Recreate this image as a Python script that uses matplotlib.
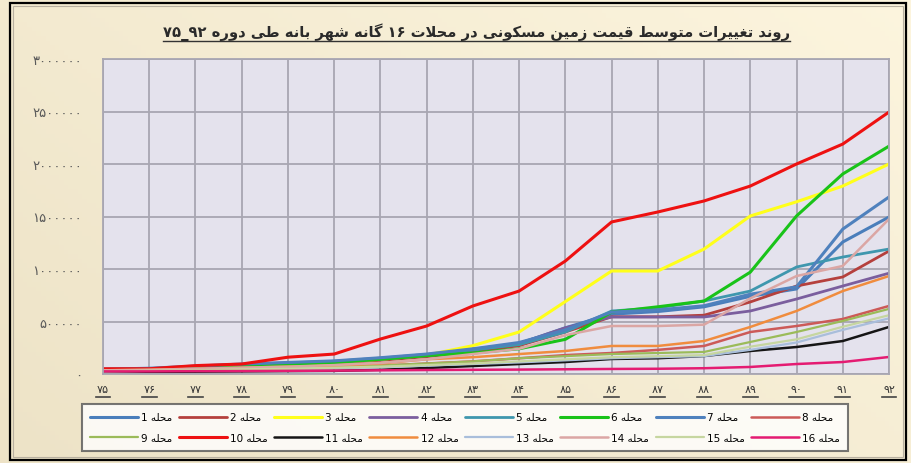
import numpy as np
import matplotlib
matplotlib.use("Agg")
import matplotlib.pyplot as plt
from matplotlib.lines import Line2D
from matplotlib.patches import Rectangle
import matplotlib.transforms as mtrans

# --- data (thousands of rial per m2) ---
years = list(range(75, 93))
s1 = [45, 50, 70, 90, 105, 120, 150, 185, 235, 290, 440, 570, 595, 640, 740, 810, 1257, 1495]
s2 = [38, 45, 60, 75, 90, 105, 130, 165, 210, 270, 400, 545, 545, 560, 686, 838, 924, 1171]
s3 = [40, 45, 60, 75, 90, 110, 140, 180, 270, 400, 690, 981, 981, 1190, 1505, 1640, 1790, 2000]
s4 = [40, 47, 65, 80, 95, 110, 140, 175, 225, 290, 440, 543, 543, 543, 600, 714, 838, 960]
s5 = [40, 48, 65, 85, 100, 115, 145, 180, 230, 280, 400, 600, 630, 695, 790, 1019, 1114, 1190]
s6 = [35, 40, 55, 70, 85, 110, 140, 175, 200, 240, 330, 590, 640, 695, 970, 1505, 1905, 2170]
s7 = [45, 55, 75, 95, 110, 125, 155, 190, 240, 300, 420, 590, 610, 650, 760, 830, 1380, 1686]
s8 = [30, 35, 45, 50, 60, 70, 80, 100, 120, 150, 180, 200, 230, 267, 400, 457, 524, 648]
s9 = [30, 35, 40, 50, 55, 65, 80, 100, 120, 150, 170, 190, 200, 210, 305, 400, 505, 620]
s10 = [50, 50, 80, 95, 160, 190, 333, 457, 648, 790, 1076, 1448, 1543, 1648, 1790, 2000, 2190, 2495]
s11 = [20, 20, 22, 25, 28, 30, 40, 57, 76, 95, 114, 143, 150, 171, 219, 257, 314, 448]
s12 = [35, 40, 50, 60, 70, 80, 100, 140, 160, 190, 219, 267, 267, 314, 448, 600, 790, 933]
s13 = [25, 30, 35, 40, 50, 55, 65, 80, 95, 110, 130, 150, 160, 170, 230, 300, 420, 530]
s14 = [35, 40, 50, 60, 70, 85, 105, 140, 190, 240, 370, 457, 457, 470, 720, 933, 1029, 1476]
s15 = [25, 30, 35, 45, 50, 60, 70, 85, 100, 120, 140, 160, 170, 180, 260, 330, 450, 560]
s16 = [25, 25, 27, 28, 30, 32, 35, 38, 40, 42, 45, 48, 50, 55, 67, 95, 114, 162]
series = [s1, s2, s3, s4, s5, s6, s7, s8, s9, s10, s11, s12, s13, s14, s15, s16]

colors = ['#4a7ebb', '#b5403d', '#ffff1a', '#7b5e9e', '#3f97ae', '#19c319', '#4f81bd', '#cc5a58',
          '#9bbb59', '#ee1111', '#151515', '#f08c3e', '#a9bedb', '#dba6a4', '#c6d6a0', '#e41b72']
widths = [2.2, 2.0, 2.2, 2.0, 2.0, 2.2, 2.2, 1.8, 1.6, 2.2, 1.8, 1.8, 1.6, 1.8, 1.6, 1.8]

title = "روند تغییرات متوسط قیمت زمین مسکونی در محلات ۱۶ گانه شهر بانه طی دوره ۹۲_۷۵"
word = "محله"
fa_digits = "۰۱۲۳۴۵۶۷۸۹"

# --- tiny arabic shaper (no reshaper library offline) ---
FORMS = {
    'ا': (0xFE8D, 0xFE8E), 'ب': (0xFE8F, 0xFE90, 0xFE91, 0xFE92), 'ت': (0xFE95, 0xFE96, 0xFE97, 0xFE98),
    'ح': (0xFEA1, 0xFEA2, 0xFEA3, 0xFEA4), 'د': (0xFEA9, 0xFEAA), 'ر': (0xFEAD, 0xFEAE),
    'ز': (0xFEAF, 0xFEB0), 'س': (0xFEB1, 0xFEB2, 0xFEB3, 0xFEB4), 'ش': (0xFEB5, 0xFEB6, 0xFEB7, 0xFEB8),
    'ط': (0xFEC1, 0xFEC2, 0xFEC3, 0xFEC4), 'غ': (0xFECD, 0xFECE, 0xFECF, 0xFED0),
    'ق': (0xFED5, 0xFED6, 0xFED7, 0xFED8), 'ل': (0xFEDD, 0xFEDE, 0xFEDF, 0xFEE0),
    'م': (0xFEE1, 0xFEE2, 0xFEE3, 0xFEE4), 'ن': (0xFEE5, 0xFEE6, 0xFEE7, 0xFEE8),
    'ه': (0xFEE9, 0xFEEA, 0xFEEB, 0xFEEC), 'و': (0xFEED, 0xFEEE),
    'ک': (0xFB8E, 0xFB8F, 0xFB90, 0xFB91), 'گ': (0xFB92, 0xFB93, 0xFB94, 0xFB95),
    'ی': (0xFBFC, 0xFBFD, 0xFBFE, 0xFBFF),
}


def shape(text):
    out = []
    i = 0
    n = len(text)
    while i < n:
        c = text[i]
        if c not in FORMS:
            out.append(c)
            i += 1
            continue
        prev = text[i - 1] if i > 0 else ''
        pj = prev in FORMS and len(FORMS[prev]) == 4
        if c == 'ل' and i + 1 < n and text[i + 1] == 'ا':
            out.append(chr(0xFEFC if pj else 0xFEFB))
            i += 2
            continue
        nxt = text[i + 1] if i + 1 < n else ''
        nj = len(FORMS[c]) == 4 and nxt in FORMS
        f = FORMS[c]
        if pj and nj:
            g = f[3]
        elif pj:
            g = f[1]
        elif nj:
            g = f[2]
        else:
            g = f[0]
        out.append(chr(g))
        i += 1
    s = ''.join(out)[::-1]
    # put digit runs back in left-to-right order
    res, run = [], []
    for ch in s:
        if ch.isdigit():
            run.append(ch)
        else:
            res.extend(run[::-1])
            run = []
            res.append(ch)
    res.extend(run[::-1])
    return ''.join(res)


def fa(num):
    return ''.join(fa_digits[int(d)] for d in str(num))


plt.rcParams['font.family'] = ['DejaVu Sans']

fig = plt.figure(figsize=(9.12, 4.64), dpi=100)

# cream gradient background
bg = fig.add_axes([0, 0, 1, 1], zorder=-10)
gx, gy = np.meshgrid(np.linspace(0, 1, 200), np.linspace(0, 1, 100))
g = (gx * 0.6 + gy * 0.4)
c0 = np.array([0.93, 0.89, 0.78])
c1 = np.array([0.99, 0.96, 0.87])
img = c0[None, None, :] * (1 - g[..., None]) + c1[None, None, :] * g[..., None]
bg.imshow(img, origin='lower', aspect='auto', extent=[0, 1, 0, 1])
bg.set_xlim(0, 1)
bg.set_ylim(0, 1)
bg.axis('off')
bg.add_patch(Rectangle((10 / 912, 3 / 464), 896 / 912, 457 / 464, fill=False,
                       edgecolor='black', lw=1.6))
bg.add_patch(Rectangle((13 / 912, 6 / 464), 890 / 912, 451 / 464, fill=False,
                       edgecolor='#b8b0a0', lw=0.8))

ax = fig.add_axes([103 / 912, 1 - 375 / 464, 786 / 912, 315 / 464])
ax.set_facecolor('#e4e2ed')
handles = []
for k, s in enumerate(series):
    h, = ax.plot(years, np.array(s) * 1000, color=colors[k], lw=widths[k], solid_capstyle='round')
    handles.append(h)

ax.set_xlim(75, 92)
ax.set_ylim(0, 3000000)
ax.set_xticks(years)
ax.set_xticklabels([fa(y) for y in years], fontsize=8, color='#333333')
yt = [0, 500000, 1000000, 1500000, 2000000, 2500000, 3000000]
ax.set_yticks(yt)
ax.set_yticklabels([fa(v) for v in yt], fontsize=9.5, color='#5a5a5a')
ax.tick_params(axis='both', length=0)
ax.tick_params(axis='y', pad=15)
ax.tick_params(axis='x', pad=7)
ax.grid(True, color='#a8a6b2', lw=1.3)
ax.set_axisbelow(True)
for sp in ax.spines.values():
    sp.set_color('#a8a6b2')
    sp.set_linewidth(1.3)

# little underlines under the year labels
tr = mtrans.blended_transform_factory(ax.transData, fig.transFigure)
for y in years:
    fig.add_artist(Line2D([y - 0.16, y + 0.16], [1 - 398 / 464] * 2, transform=tr,
                          color='#444444', lw=1.2))

# title with underline
fig.text(0.522, 1 - 32 / 464, shape(title), ha='center', va='center', fontsize=10.6,
         fontweight='bold', color='#2a2a2a')
fig.add_artist(Line2D([163 / 912, 790 / 912], [1 - 42 / 464] * 2, color='#333333', lw=1.0))

# legend, 2 rows x 8 columns
order = []
for c in range(8):
    order += [c, c + 8]
labels = [shape(word + ' ' + str(k + 1)) for k in range(16)]
leg = fig.legend([handles[i] for i in order], [labels[i] for i in order], ncol=8,
                 loc='center', bbox_to_anchor=(82 / 912, 1 - 452 / 464, 766 / 912, 47 / 464),
                 mode='expand', fontsize=7.5, handlelength=4.6, handletextpad=0.3,
                 columnspacing=0.4, labelspacing=1.0, borderpad=0.75,
                 frameon=True, fancybox=False, borderaxespad=0)
fr = leg.get_frame()
fr.set_facecolor('white')
fr.set_edgecolor('#555555')
fr.set_linewidth(1.5)

fig.savefig('out.png', dpi=100)
